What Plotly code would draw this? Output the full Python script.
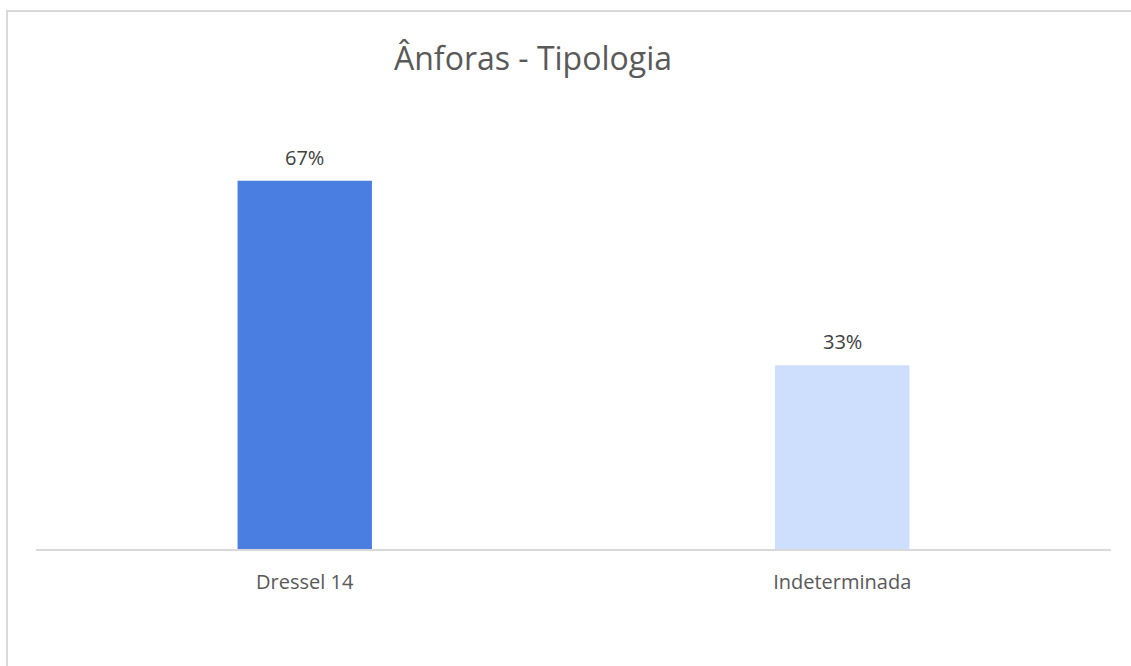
import plotly.graph_objects as go

categories = ['Dressel 14', 'Indeterminada']
values = [0.667, 0.333]
bar_colors = ['#4a7ee0', '#cddffd']

fig = go.Figure()

fig.add_trace(go.Bar(
    x=categories,
    y=values,
    marker=dict(color=bar_colors, line=dict(width=0)),
    hoverinfo='skip'
))

# value labels above the bars
for cat, val in zip(categories, values):
    fig.add_annotation(
        x=cat, y=val,
        text=f'{round(val * 100)}%',
        showarrow=False,
        yanchor='bottom',
        yshift=8,
        font=dict(size=20, color='#404040')
    )

# chart frame (cropped on the right and bottom like the original)
fig.add_shape(
    type='rect', xref='paper', yref='paper',
    x0=-0.027, x1=1.1, y0=-0.5, y1=1.198,
    line=dict(color='#d9d9d9', width=2),
    fillcolor='rgba(0,0,0,0)',
    layer='below'
)

fig.update_layout(
    width=1131,
    height=666,
    paper_bgcolor='white',
    plot_bgcolor='white',
    font=dict(family='Open Sans', color='#595959'),
    title=dict(
        text='Ânforas - Tipologia',
        font=dict(size=32, color='#595959'),
        x=533 / 1131,
        xanchor='center',
        y=0.911,
        yanchor='middle'
    ),
    bargap=0.75,
    showlegend=False,
    margin=dict(l=36, r=20, t=100, b=117),
    xaxis=dict(
        showline=True,
        linecolor='#d9d9d9',
        linewidth=2,
        showgrid=False,
        ticks='',
        ticklabelstandoff=14,
        tickfont=dict(size=20, color='#595959')
    ),
    yaxis=dict(
        range=[0, 0.8134],
        visible=False,
        showgrid=False,
        zeroline=False
    )
)

# drop the default page margin so the figure sits at the window corner
fig.write_html(
    'out.html',
    config={'displayModeBar': False},
    post_script="document.body.style.margin='0';"
)
